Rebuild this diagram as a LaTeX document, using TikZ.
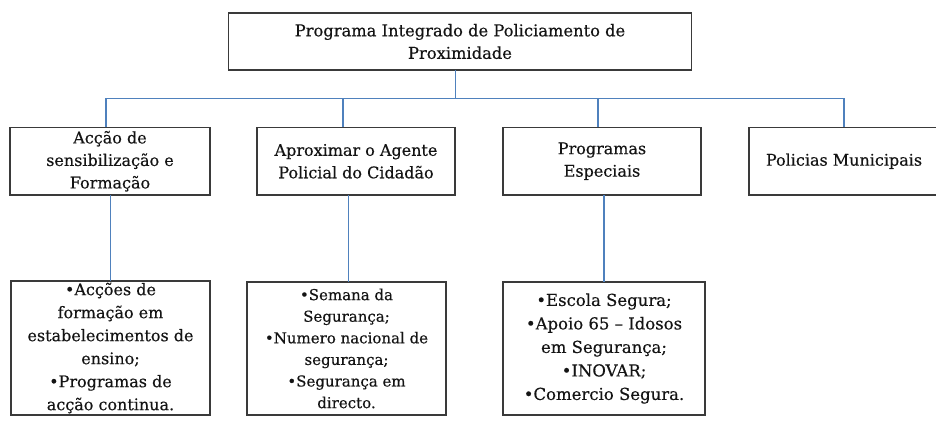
\documentclass[tikz,border=0pt]{standalone}
\usepackage{fontspec}
\setmainfont{DejaVu Serif}[FakeBold=0.35]
\definecolor{connblue}{HTML}{4F81BD}
\definecolor{boxline}{HTML}{3A3A3A}
\definecolor{txt}{HTML}{141414}
\tikzset{
  box/.style={draw=boxline, line width=1.5pt, fill=white, rectangle, inner sep=0pt, outer sep=0pt,
              align=center, text=txt},
  conn/.style={draw=connblue, line width=1.2pt},
  fnorm/.style={font=\fontsize{16}{22.5}\selectfont},
}
\begin{document}
\begin{tikzpicture}[x=1pt,y=-1pt]
\useasboundingbox (0,0) rectangle (936,427);
% top
\node[box, font=\fontsize{16.3}{22.5}\selectfont, minimum width=463, minimum height=57] (t) at (460,41.5)
  {Programa Integrado de Policiamento de\\Proximidade};
% row 2
\node[box, fnorm, minimum width=200, minimum height=67.5] (b1) at (110,161.25)
  {Acção de\\sensibilização e\\Formação};
\node[box, fnorm, minimum width=198, minimum height=67.5] (b2) at (356,161.25)
  {Aproximar o Agente\\Policial do Cidadão};
\node[box, fnorm, minimum width=198, minimum height=67.5] (b3) at (602,161.25)
  {Programas\\Especiais};
\node[box, fnorm, minimum width=190, minimum height=67.5] (b4) at (844,161.25)
  {Policias Municipais};
% row 3
\node[box, font=\fontsize{16}{23}\selectfont, minimum width=199, minimum height=134] (c1) at (110.5,348)
  {•Acções de\\formação em\\estabelecimentos de\\ensino;\\•Programas de\\acção continua.};
\node[box, font=\fontsize{15}{21.6}\selectfont, minimum width=199, minimum height=133] (c2) at (346.5,348.5)
  {•Semana da\\Segurança;\\•Numero nacional de\\segurança;\\•Segurança em\\directo.};
\node[box, font=\fontsize{16.5}{23.5}\selectfont, minimum width=202, minimum height=133] (c3) at (604,348.5)
  {•Escola Segura;\\•Apoio 65 – Idosos\\em Segurança;\\•INOVAR;\\•Comercio Segura.};
% connectors top -> row 2
\coordinate (j) at ([xshift=-4.5pt]t.south |- 0,98.5);
\draw[conn] ([xshift=-4.5pt]t.south) -- (j);
\draw[conn] ([xshift=-4pt]b1.north) |- (j) -| (b4.north);
\draw[conn] ([xshift=-13pt]b2.north) -- ([xshift=-13pt]b2.north |- j);
\draw[conn] ([xshift=-4pt]b3.north) -- ([xshift=-4pt]b3.north |- j);
% row 2 -> row 3
\draw[conn] (c1.north) -- (c1.north |- b1.south);
\draw[conn] ([xshift=2pt]c2.north) -- ([xshift=2pt]c2.north |- b2.south);
\draw[conn] (c3.north) -- (c3.north |- b3.south);
\end{tikzpicture}
\end{document}
